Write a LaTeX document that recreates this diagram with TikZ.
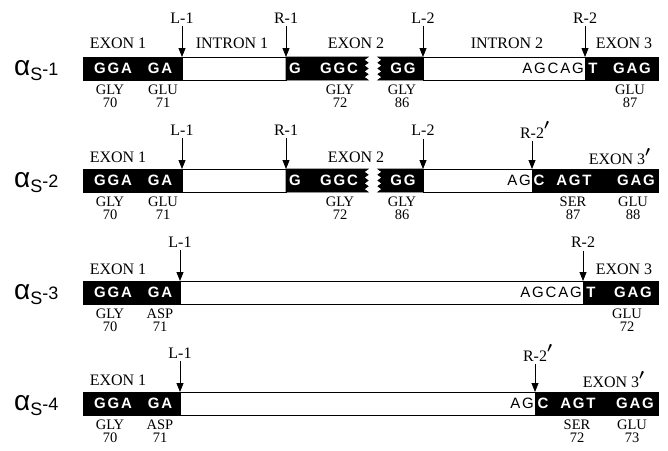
\documentclass[tikz,border=0pt]{standalone}
\usepackage{fontspec}
\setmainfont{Liberation Serif}
\newfontfamily\seqfont[LetterSpace=12]{Liberation Sans}
\newfontfamily\isofont{Liberation Sans}
\usetikzlibrary{arrows.meta}
\newcommand\prm{\rlap{\raisebox{0.5pt}{\fontsize{22}{22}\selectfont\boldmath$'$}}}
\newcommand\isoname[1]{{\fontsize{28}{28}\selectfont α}\raisebox{-5pt}{S}-#1}

\begin{document}
\begin{tikzpicture}[x=1pt, y=-1pt,
lbl/.style={font=\fontsize{16}{16}\selectfont, inner sep=0pt},
aa/.style={font=\fontsize{14.5}{13}\selectfont, align=center, inner sep=0pt, anchor=north},
seq/.style={font=\seqfont\bfseries\fontsize{15}{15}\selectfont, text=white, inner sep=0pt},
seqw/.style={font=\seqfont\fontsize{15}{15}\selectfont, inner sep=0pt, anchor=east},
iso/.style={font=\isofont\fontsize{18}{18}\selectfont, inner sep=0pt, anchor=base west},
exon/.style={fill=black, draw=black, line width=0.8pt},
intron/.style={fill=white, draw=black, line width=0.8pt},
arr/.style={-{Triangle[length=9pt,width=7pt]}, line width=0.8pt, shorten <=3pt}]
\useasboundingbox (0,0) rectangle (668,450);

% alpha s-1
\node[iso] (ra) at (14,75) {\isoname{1}};
\filldraw[exon] (83,57) rectangle (182,80);
\filldraw[intron] (182,57) rectangle (286,80);
\filldraw[exon] (286,57) -- (368,57) -- (364,59.9) -- (368,62.75) -- (364,65.6) -- (368,68.5) -- (364,71.4) -- (368,74.25) -- (364,77.1) -- (368,80) -- (286,80) -- cycle;
\filldraw[exon] (378,57) -- (423,57) -- (423,80) -- (378,80) -- (382,77.1) -- (378,74.25) -- (382,71.4) -- (378,68.5) -- (382,65.6) -- (378,62.75) -- (382,59.9) -- cycle;
\filldraw[intron] (423,57) rectangle (585,80);
\filldraw[exon] (585,57) rectangle (658,80);
\node[seq] (s1a) at (113,68.5) {GGA};
\node[seq] (s2a) at (160,68.5) {GA};
\node[seq] (s3a) at (295,68.5) {G};
\node[seq] (s4a) at (339,68.5) {GGC};
\node[seq] (s5a) at (403,68.5) {GG};
\node[seqw] (s6a) at (584,68.5) {AGCAG};
\node[seq] (s7a) at (593,68.5) {T};
\node[seq] (s8a) at (632,68.5) {GAG};
\node[lbl] (e1a) at (118,43) {EXON 1};
\node[lbl] (i1a) at (232,43) {INTRON 1};
\node[lbl] (e2a) at (356,43) {EXON 2};
\node[lbl] (i2a) at (507,43) {INTRON 2};
\node[lbl] (e3a) at (624,43) {EXON 3};
\node[lbl] (l1a) at (182,18) {L-1};
\node[lbl] (r1a) at (286,18) {R-1};
\node[lbl] (l2a) at (423,18) {L-2};
\node[lbl] (r2a) at (585,18) {R-2};
\coordinate (tl1a) at (182,57);
\coordinate (tr1a) at (286,57);
\coordinate (tl2a) at (423,57);
\coordinate (tr2a) at (585,57);
\draw[arr] (l1a) -- (tl1a);
\draw[arr] (r1a) -- (tr1a);
\draw[arr] (l2a) -- (tl2a);
\draw[arr] (r2a) -- (tr2a);
\node[aa] (g70a) at (110,85) {GLY\\70};
\node[aa] (g71a) at (163,85) {GLU\\71};
\node[aa] (g72a) at (340,85) {GLY\\72};
\node[aa] (g86a) at (402,85) {GLY\\86};
\node[aa] (g87a) at (630,85) {GLU\\87};

% alpha s-2
\begin{scope}[yshift=-112pt]
\node[iso] (rb) at (14,75) {\isoname{2}};
\filldraw[exon] (83,57) rectangle (182,80);
\filldraw[intron] (182,57) rectangle (286,80);
\filldraw[exon] (286,57) -- (368,57) -- (364,59.9) -- (368,62.75) -- (364,65.6) -- (368,68.5) -- (364,71.4) -- (368,74.25) -- (364,77.1) -- (368,80) -- (286,80) -- cycle;
\filldraw[exon] (378,57) -- (423,57) -- (423,80) -- (378,80) -- (382,77.1) -- (378,74.25) -- (382,71.4) -- (378,68.5) -- (382,65.6) -- (378,62.75) -- (382,59.9) -- cycle;
\filldraw[intron] (423,57) rectangle (532,80);
\filldraw[exon] (532,57) rectangle (658,80);
\node[seq] (s1b) at (113,68.5) {GGA};
\node[seq] (s2b) at (160,68.5) {GA};
\node[seq] (s3b) at (295,68.5) {G};
\node[seq] (s4b) at (339,68.5) {GGC};
\node[seq] (s5b) at (403,68.5) {GG};
\node[seqw] (s6b) at (531,68.5) {AG};
\node[seq] (s7b) at (539,68.5) {C};
\node[seq] (s8b) at (574,68.5) {AGT};
\node[seq] (s9b) at (636,68.5) {GAG};
\node[lbl] (e1b) at (118,45) {EXON 1};
\node[lbl] (e2b) at (356,45) {EXON 2};
\node[lbl] (e3b) at (617,45) {EXON 3\prm};
\node[lbl] (l1b) at (182,18) {L-1};
\node[lbl] (r1b) at (286,18) {R-1};
\node[lbl] (l2b) at (423,18) {L-2};
\node[lbl] (r2b) at (532,18) {R-2\prm};
\coordinate (tl1b) at (182,57);
\coordinate (tr1b) at (286,57);
\coordinate (tl2b) at (423,57);
\coordinate (tr2b) at (532,57);
\draw[arr] (l1b) -- (tl1b);
\draw[arr] (r1b) -- (tr1b);
\draw[arr] (l2b) -- (tl2b);
\draw[arr] (r2b) -- (tr2b);
\node[aa] (g70b) at (110,85) {GLY\\70};
\node[aa] (g71b) at (163,85) {GLU\\71};
\node[aa] (g72b) at (340,85) {GLY\\72};
\node[aa] (g86b) at (402,85) {GLY\\86};
\node[aa] (g87b) at (573,85) {SER\\87};
\node[aa] (g88b) at (633,85) {GLU\\88};
\end{scope}

% alpha s-3
\begin{scope}[yshift=-224pt]
\node[iso] (rc) at (14,75) {\isoname{3}};
\filldraw[exon] (83,57) rectangle (180,80);
\filldraw[intron] (180,57) rectangle (583,80);
\filldraw[exon] (583,57) rectangle (658,80);
\node[seq] (s1c) at (113,68.5) {GGA};
\node[seq] (s2c) at (160,68.5) {GA};
\node[seqw] (s3c) at (582,68.5) {AGCAG};
\node[seq] (s4c) at (591,68.5) {T};
\node[seq] (s5c) at (633,68.5) {GAG};
\node[lbl] (e1c) at (118,45) {EXON 1};
\node[lbl] (e3c) at (624,45) {EXON 3};
\node[lbl] (l1c) at (180,18) {L-1};
\node[lbl] (r2c) at (583,18) {R-2};
\coordinate (tl1c) at (180,57);
\coordinate (tr2c) at (583,57);
\draw[arr] (l1c) -- (tl1c);
\draw[arr] (r2c) -- (tr2c);
\node[aa] (g70c) at (110,85) {GLY\\70};
\node[aa] (g71c) at (160,85) {ASP\\71};
\node[aa] (g72c) at (627,85) {GLU\\72};
\end{scope}

% alpha s-4
\begin{scope}[yshift=-335pt]
\node[iso] (rd) at (14,75) {\isoname{4}};
\filldraw[exon] (83,57) rectangle (180,80);
\filldraw[intron] (180,57) rectangle (535,80);
\filldraw[exon] (535,57) rectangle (658,80);
\node[seq] (s1d) at (113,68.5) {GGA};
\node[seq] (s2d) at (160,68.5) {GA};
\node[seqw] (s3d) at (534,68.5) {AG};
\node[seq] (s4d) at (543,68.5) {C};
\node[seq] (s5d) at (578,68.5) {AGT};
\node[seq] (s6d) at (635,68.5) {GAG};
\node[lbl] (e1d) at (118,45) {EXON 1};
\node[lbl] (e3d) at (611,45) {EXON 3\prm};
\node[lbl] (l1d) at (180,18) {L-1};
\node[lbl] (r2d) at (535,18) {R-2\prm};
\coordinate (tl1d) at (180,57);
\coordinate (tr2d) at (535,57);
\draw[arr] (l1d) -- (tl1d);
\draw[arr] (r2d) -- (tr2d);
\node[aa] (g70d) at (110,85) {GLY\\70};
\node[aa] (g71d) at (160,85) {ASP\\71};
\node[aa] (g72d) at (577,85) {SER\\72};
\node[aa] (g73d) at (632,85) {GLU\\73};
\end{scope}
\end{tikzpicture}
\end{document}
